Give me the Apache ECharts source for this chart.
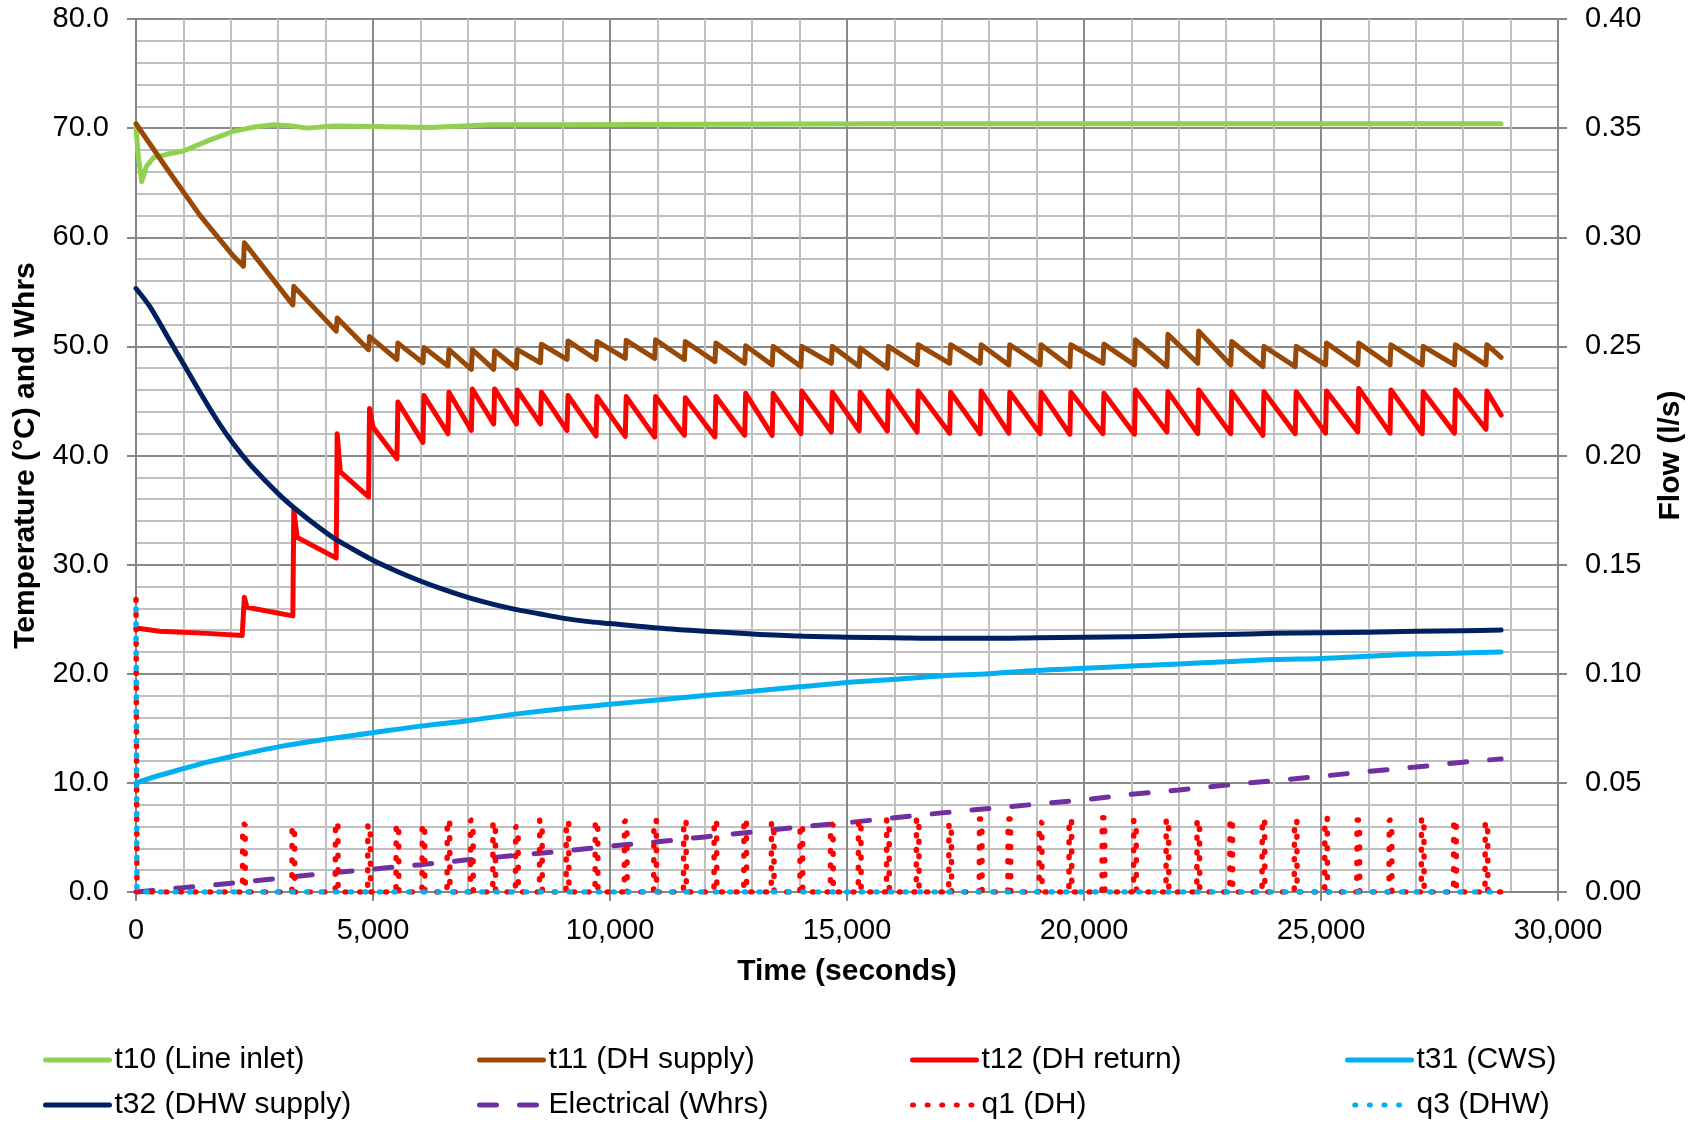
<!DOCTYPE html>
<html>
<head>
<meta charset="utf-8">
<script src="https://cdn.jsdelivr.net/npm/echarts@6/dist/echarts.min.js"></script>
<style>
  html, body { margin: 0; padding: 0; background: #ffffff; }
  #chart { width: 1693px; height: 1122px; }
</style>
</head>
<body>
<div id="chart"></div>
<script>
// ---- Measured data (time in seconds) ----

// t10 (Line inlet)
const t10Time = [0, 50, 120, 220, 370, 650, 1000, 1550, 2050, 2500, 2900, 3300, 3600, 4150, 5000, 6200, 7500, 9000, 12000, 16000, 20000, 24000, 28800];
const t10Temp = [70.0, 67.4, 65.1, 66.5, 67.3, 67.6, 67.9, 68.9, 69.7, 70.1, 70.3, 70.2, 70.0, 70.2, 70.15, 70.05, 70.3, 70.3, 70.35, 70.4, 70.4, 70.4, 70.4];

// DH charging cycles: start time of each cycle
const cycleStart = [2266, 3309, 4224, 4907, 5505, 6054, 6582, 7075, 7546, 8025,
  8532, 9093, 9705, 10322, 10942, 11570, 12214, 12842, 13422, 14026,
  14670, 15258, 15853, 16481, 17166, 17810, 18414, 19074, 19702, 20400,
  21065, 21750, 22400, 23096, 23776, 24456, 25096, 25776, 26456, 27136,
  27816, 28480];
const endTime = 28800;

// t11 (DH supply): initial cool-down, then value just before / just after each cycle start
const t11LeadTime = [0, 650, 1350, 2050];
const t11LeadTemp = [70.4, 66.3, 62.0, 58.3];
const t11Trough = [57.35, 53.8, 51.4, 49.7, 48.8, 48.5, 48.2, 47.9, 47.9, 48.0,
  48.5, 48.8, 48.8, 48.9, 48.9, 48.8, 48.6, 48.45, 48.3, 48.15,
  48.45, 48.15, 48.0, 48.3, 48.45, 48.45, 48.3, 48.3, 48.15, 48.45,
  48.3, 48.15, 48.45, 48.3, 48.15, 48.15, 48.3, 48.3, 48.3, 48.3,
  48.3, 48.3];
const t11Peak = [59.5, 55.5, 52.6, 50.9, 50.3, 49.9, 49.7, 49.7, 49.6, 49.7,
  50.2, 50.5, 50.45, 50.55, 50.6, 50.45, 50.3, 50.05, 50.0, 50.0,
  50.0, 49.85, 50.0, 50.15, 50.15, 50.15, 50.15, 50.15, 50.15, 50.2,
  50.6, 51.1, 51.4, 50.45, 50.0, 50.0, 50.3, 50.3, 50.15, 50.0,
  50.15, 50.15];
const t11End = 49.0;

// t12 (DH return)
const t12LeadTime = [0, 500, 1500, 2240];
const t12LeadTemp = [24.2, 23.9, 23.7, 23.5];
const t12Trough = [23.5, 25.3, 30.6, 36.2, 39.7, 41.2, 42.0, 42.3, 42.9, 42.9,
  42.9, 42.3, 41.8, 41.75, 41.7, 41.85, 41.7, 41.85, 41.85, 42.0,
  42.15, 42.25, 42.25, 42.15, 42.05, 42.0, 42.05, 42.0, 41.95, 42.0,
  41.95, 42.15, 42.0, 42.0, 41.85, 42.0, 42.05, 42.15, 42.05, 42.0,
  42.05, 42.4];
const t12Peak = [27.0, 35.0, 42.0, 44.3, 44.9, 45.5, 45.8, 46.1, 46.1, 46.0,
  45.8, 45.5, 45.4, 45.4, 45.4, 45.3, 45.4, 45.7, 45.7, 45.9,
  45.8, 45.8, 45.9, 45.9, 45.8, 45.9, 45.8, 45.8, 45.8, 45.7,
  46.0, 45.85, 46.0, 45.85, 45.85, 45.85, 45.9, 46.15, 46.0, 45.85,
  46.0, 45.9];
// quick settling after the first few cycle starts
const t12SettleTime = [2340, 3400, 4310, 5000];
const t12SettleTemp = [26.1, 32.5, 38.5, 42.6];
const t12End = 43.7;

// t31 (CWS)
const t31Time = [0, 500, 1000, 1500, 2000, 3000, 4000, 5000, 6000, 7000, 8000, 9000, 10000, 11000, 12000, 13000, 14000, 15000, 16000, 17000, 18000, 19000, 20000, 21000, 22000, 23000, 24000, 25000, 26000, 27000, 28000, 28800];
const t31Temp = [10.0, 10.7, 11.3, 11.9, 12.4, 13.3, 14.0, 14.6, 15.2, 15.7, 16.3, 16.8, 17.2, 17.6, 18.0, 18.4, 18.8, 19.2, 19.5, 19.8, 20.0, 20.3, 20.5, 20.7, 20.9, 21.1, 21.3, 21.4, 21.6, 21.8, 21.9, 22.0];

// t32 (DHW supply)
const t32Time = [0, 300, 650, 1000, 1350, 1700, 2050, 2400, 2750, 3100, 3450, 3800, 4150, 4500, 5000, 5500, 6000, 6500, 7000, 7500, 8000, 8500, 9000, 9500, 10000, 11000, 12000, 13000, 14000, 15000, 16000, 17000, 18000, 19000, 20000, 21000, 22000, 23000, 24000, 25000, 26000, 27000, 28000, 28800];
const t32Temp = [55.3, 53.6, 51.0, 48.4, 45.8, 43.3, 41.1, 39.2, 37.6, 36.1, 34.8, 33.6, 32.5, 31.6, 30.4, 29.4, 28.5, 27.7, 27.0, 26.4, 25.9, 25.5, 25.1, 24.8, 24.6, 24.2, 23.9, 23.65, 23.45, 23.35, 23.3, 23.25, 23.25, 23.3, 23.35, 23.4, 23.5, 23.6, 23.7, 23.75, 23.8, 23.9, 23.95, 24.0];

// Electrical (Whrs)
const elecTime = [0, 1000, 2000, 3000, 4000, 5000, 6000, 7000, 8000, 9000, 10000, 11000, 12000, 13000, 14000, 15000, 16000, 17000, 18000, 19000, 20000, 21000, 22000, 23000, 24000, 25000, 26000, 27000, 28000, 28800];
const elecWh = [0, 0.4, 0.8, 1.25, 1.7, 2.1, 2.5, 2.95, 3.35, 3.75, 4.2, 4.6, 5.05, 5.5, 5.95, 6.35, 6.8, 7.25, 7.65, 8.05, 8.45, 8.95, 9.35, 9.8, 10.2, 10.6, 11.05, 11.45, 11.9, 12.2];

// q1 (DH) flow: start-up spike, then one pulse per cycle
const q1LeadTime = [0, 20];
const q1LeadFlow = [0.134, 0];
const q1Peak = [0.031, 0.030, 0.032, 0.031, 0.031, 0.031, 0.033, 0.033, 0.032, 0.030,
  0.033, 0.0325, 0.0325, 0.0325, 0.033, 0.033, 0.033, 0.0335, 0.032, 0.031,
  0.031, 0.033, 0.0335, 0.034, 0.0315, 0.0335, 0.0335, 0.032, 0.0335, 0.034,
  0.033, 0.0335, 0.033, 0.0335, 0.0335, 0.033, 0.034, 0.033, 0.033, 0.034,
  0.033, 0.032];

// q3 (DHW) flow
const q3Time = [0, 20, 28800];
const q3Flow = [0.133, 0, 0];

// Axis ticks
const xTicks = { min: 0, max: 30000, step: 5000 };
const tempTicks = { min: 0, max: 80, step: 10 };
const flowTicks = { min: 0, max: 0.4, step: 0.05 };

// ---- Build polylines ----
function pairs(ts, vs) { return ts.map((t, i) => [t, vs[i]]); }

const t11Data = pairs(t11LeadTime, t11LeadTemp);
cycleStart.forEach((c, i) => { t11Data.push([c, t11Trough[i]], [c + 20, t11Peak[i]]); });
t11Data.push([endTime, t11End]);

const t12Data = pairs(t12LeadTime, t12LeadTemp);
cycleStart.forEach((c, i) => {
  t12Data.push([c, t12Trough[i]], [c + 20, t12Peak[i]]);
  if (i < t12SettleTime.length) t12Data.push([t12SettleTime[i], t12SettleTemp[i]]);
});
t12Data.push([endTime, t12End]);

const q1Data = pairs(q1LeadTime, q1LeadFlow);
cycleStart.forEach((c, i) => {
  q1Data.push([c - 20, 0], [c - 15, q1Peak[i]], [c + 35, q1Peak[i]], [c + 40, 0]);
});
q1Data.push([endTime, 0]);

// ---- Chart ----
const FONT = '"Liberation Sans", Arial, Helvetica, sans-serif';
const AXIS_GREY = '#868686';
const MAJOR_GRID = '#8a8a8a';
const MINOR_GRID = '#c0c0c0';

function lineSeries(name, data, color, width, extra) {
  return Object.assign({
    name: name,
    type: 'line',
    data: data,
    symbol: 'none',
    showSymbol: false,
    silent: true,
    animation: false,
    lineStyle: { color: color, width: width, cap: 'round', join: 'round' },
    itemStyle: { color: color }
  }, extra || {});
}

const series = [
  lineSeries('t10 (Line inlet)', pairs(t10Time, t10Temp), '#92D050', 5),
  lineSeries('t11 (DH supply)', t11Data, '#984807', 5),
  lineSeries('t12 (DH return)', t12Data, '#FF0000', 5),
  lineSeries('t31 (CWS)', pairs(t31Time, t31Temp), '#00B0F0', 5, { smooth: 0.3 }),
  lineSeries('t32 (DHW supply)', pairs(t32Time, t32Temp), '#002060', 5, { smooth: 0.3 }),
  lineSeries('Electrical (Whrs)', pairs(elecTime, elecWh), '#7030A0', 5, {
    lineStyle: { color: '#7030A0', width: 5, type: [17, 23], cap: 'round' }
  }),
  lineSeries('q1 (DH)', q1Data, '#FF0000', 5.5, {
    yAxisIndex: 1,
    lineStyle: { color: '#FF0000', width: 5.5, type: [1, 13.6], cap: 'round' }
  }),
  lineSeries('q3 (DHW)', pairs(q3Time, q3Flow), '#00B0F0', 5.5, {
    yAxisIndex: 1,
    lineStyle: { color: '#00B0F0', width: 5.5, type: [1, 13.6], dashOffset: 7.3, cap: 'round' }
  })
];

function legendColumn(names, left) {
  return {
    data: names,
    left: left,
    top: 1045,
    orient: 'vertical',
    padding: 0,
    itemGap: 15,
    itemWidth: 64,
    itemHeight: 14,
    selectedMode: false,
    itemStyle: { color: 'rgba(0,0,0,0)', borderWidth: 0, opacity: 0 },
    lineStyle: { width: 5 },
    textStyle: { fontFamily: FONT, fontSize: 30, lineHeight: 30, color: '#000000' }
  };
}

function thousands(v) { return String(v).replace(/\B(?=(\d{3})+(?!\d))/g, ','); }

const option = {
  backgroundColor: '#ffffff',
  animation: false,
  textStyle: { fontFamily: FONT },
  grid: { left: 136, right: 135, top: 19, bottom: 230, containLabel: false, outerBoundsMode: 'none' },
  legend: [
    legendColumn(['t10 (Line inlet)', 't32 (DHW supply)'], 43),
    legendColumn(['t11 (DH supply)', 'Electrical (Whrs)'], 477),
    legendColumn(['t12 (DH return)', 'q1 (DH)'], 910),
    legendColumn(['t31 (CWS)', 'q3 (DHW)'], 1345)
  ],
  xAxis: {
    type: 'value',
    min: xTicks.min, max: xTicks.max, interval: xTicks.step,
    name: 'Time (seconds)',
    nameLocation: 'middle',
    nameGap: 65,
    nameTextStyle: { fontFamily: FONT, fontSize: 30, fontWeight: 'bold', color: '#000000' },
    axisLine: { show: true, onZero: false, lineStyle: { color: AXIS_GREY, width: 2 } },
    axisTick: { show: true, inside: false, length: 9, lineStyle: { color: AXIS_GREY, width: 2 } },
    axisLabel: { margin: 24, fontFamily: FONT, fontSize: 29, color: '#000000', formatter: thousands },
    splitLine: { show: true, lineStyle: { color: MAJOR_GRID, width: 2 } },
    minorTick: { show: false, splitNumber: 5 },
    minorSplitLine: { show: true, lineStyle: { color: MINOR_GRID, width: 2 } }
  },
  yAxis: [
    {
      type: 'value',
      position: 'left',
      min: tempTicks.min, max: tempTicks.max, interval: tempTicks.step,
      name: 'Temperature (°C) and Whrs',
      nameLocation: 'middle',
      nameGap: 95,
      nameTextStyle: { fontFamily: FONT, fontSize: 30, fontWeight: 'bold', color: '#000000' },
      axisLine: { show: true, lineStyle: { color: AXIS_GREY, width: 2 } },
      axisTick: { show: true, inside: false, length: 9, lineStyle: { color: AXIS_GREY, width: 2 } },
      axisLabel: { margin: 27, fontFamily: FONT, fontSize: 29, color: '#000000', formatter: v => v.toFixed(1) },
      splitLine: { show: true, lineStyle: { color: MAJOR_GRID, width: 2 } },
      minorTick: { show: false, splitNumber: 5 },
      minorSplitLine: { show: true, lineStyle: { color: MINOR_GRID, width: 2 } }
    },
    {
      type: 'value',
      position: 'right',
      min: flowTicks.min, max: flowTicks.max, interval: flowTicks.step,
      name: 'Flow (l/s)',
      nameLocation: 'middle',
      nameGap: 98,
      nameTextStyle: { fontFamily: FONT, fontSize: 30, fontWeight: 'bold', color: '#000000' },
      axisLine: { show: true, lineStyle: { color: AXIS_GREY, width: 2 } },
      axisTick: { show: true, inside: false, length: 9, lineStyle: { color: AXIS_GREY, width: 2 } },
      axisLabel: { margin: 27, fontFamily: FONT, fontSize: 29, color: '#000000', formatter: v => v.toFixed(2) },
      splitLine: { show: false }
    }
  ],
  series: series
};

const chart = echarts.init(document.getElementById('chart'), null, { renderer: 'canvas', width: 1693, height: 1122 });
chart.setOption(option);
</script>
</body>
</html>
